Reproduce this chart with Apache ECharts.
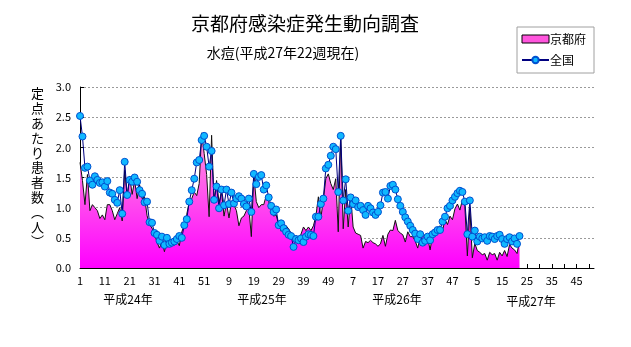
<!DOCTYPE html>
<html><head><meta charset="utf-8">
<script src="https://cdn.jsdelivr.net/npm/echarts@6/dist/echarts.min.js"></script>
<style>html,body{margin:0;padding:0;background:#fff}#c{width:631px;height:347px}</style>
</head><body><div id="c"></div>
<script>
const weeksPerYear = [52, 52, 52, 52];
const yearLabels = ['平成24年', '平成25年', '平成26年', '平成27年'];
const yTicks = [0, 0.5, 1, 1.5, 2, 2.5, 3];

// 京都府 (2012 week1 .. 2015 week22)
const kyoto = [
 1.75,1.45,1.05,1.55,0.95,1.05,1.00,0.95,0.82,0.88,
 0.80,1.05,1.05,0.95,0.80,0.90,1.00,0.78,1.62,1.18,
 1.52,1.22,1.45,1.15,1.38,1.15,1.18,0.87,0.72,0.66,
 0.57,0.43,0.33,0.45,0.27,0.45,0.36,0.41,0.38,0.45,
 0.37,0.60,0.71,0.89,1.10,1.15,1.26,1.20,1.40,2.24,
 1.90,1.55,0.85,2.20,1.10,1.45,1.08,1.27,0.86,1.08,
 0.83,1.10,1.05,0.95,0.70,0.83,0.86,0.95,1.00,0.52,
 1.54,1.10,1.00,1.05,1.05,1.20,1.10,0.97,0.86,0.88,
 0.72,0.61,0.72,0.70,0.65,0.58,0.48,0.54,0.48,0.56,
 0.68,0.62,0.68,0.62,0.70,0.86,1.18,0.83,1.13,1.48,
 1.56,1.40,1.30,1.48,0.60,2.20,0.65,1.30,0.68,1.20,
 0.68,0.58,0.56,0.54,0.33,0.44,0.42,0.46,0.42,0.40,
 0.36,0.40,0.54,0.36,0.56,0.63,0.62,0.79,0.62,0.58,
 0.55,0.43,0.60,0.52,0.52,0.45,0.33,0.50,0.52,0.55,
 0.50,0.30,0.55,0.63,0.66,0.70,0.62,0.80,0.72,0.86,
 0.80,0.98,1.06,0.96,1.13,1.02,0.20,1.00,0.17,0.41,
 0.29,0.26,0.22,0.24,0.13,0.26,0.22,0.24,0.13,0.26,
 0.20,0.29,0.19,0.39,0.33,0.30,0.24,0.45
];

// 全国
const zenkoku = [
 2.52,2.18,1.66,1.68,1.45,1.38,1.52,1.46,1.41,1.42,
 1.35,1.44,1.25,1.23,1.13,1.08,1.29,0.90,1.76,1.21,
 1.46,1.43,1.50,1.43,1.29,1.23,1.09,1.10,0.76,0.75,
 0.58,0.55,0.45,0.52,0.38,0.50,0.40,0.42,0.44,0.48,
 0.53,0.50,0.71,0.81,1.10,1.29,1.48,1.75,1.79,2.12,
 2.19,2.01,1.68,1.94,1.13,1.35,0.99,1.30,1.04,1.30,
 1.06,1.25,1.07,1.15,1.19,1.15,1.06,1.02,1.15,0.93,
 1.56,1.39,1.51,1.54,1.30,1.37,1.17,1.03,0.93,0.97,
 0.71,0.74,0.66,0.60,0.55,0.53,0.35,0.48,0.46,0.49,
 0.43,0.52,0.56,0.55,0.53,0.85,0.85,1.06,1.15,1.65,
 1.71,1.86,2.01,1.97,1.26,2.19,1.12,1.47,0.95,1.17,
 1.06,1.12,1.01,1.03,0.96,0.88,1.03,0.99,0.92,0.88,
 0.93,1.04,1.25,1.26,1.15,1.36,1.38,1.30,1.14,1.03,
 0.93,0.84,0.77,0.70,0.63,0.57,0.48,0.56,0.42,0.45,
 0.52,0.46,0.56,0.59,0.63,0.63,0.77,0.85,0.99,1.03,
 1.12,1.18,1.24,1.28,1.26,1.10,0.56,1.12,0.52,0.62,
 0.44,0.52,0.49,0.51,0.45,0.53,0.52,0.48,0.53,0.55,
 0.48,0.40,0.48,0.51,0.44,0.49,0.40,0.53
];

const categories = [];
weeksPerYear.forEach(n => { for (let w = 1; w <= n; w++) categories.push(String(w)); });

const FONT = '"Noto Sans CJK JP", sans-serif';
const chart = echarts.init(document.getElementById('c'), null, {renderer: 'canvas'});

chart.setOption({
  backgroundColor: '#ffffff',
  animation: false,
  textStyle: {fontFamily: FONT, color: '#000'},
  title: [
    {text: '京都府感染症発生動向調査', left: 300, top: 9, textAlign: 'center',
     textStyle: {fontFamily: FONT, fontSize: 19, fontWeight: 'normal', color: '#000'}},
    {text: '水痘(平成27年22週現在)', left: 278, top: 41, textAlign: 'center',
     textStyle: {fontFamily: FONT, fontSize: 14, fontWeight: 'normal', color: '#000'}}
  ],
  legend: {
    orient: 'vertical', left: 517, top: 27,
    padding: [6, 8, 7, 4], itemGap: 9,
    itemWidth: 27, itemHeight: 8,
    borderColor: '#a0a0a0', borderWidth: 1,
    textStyle: {fontFamily: FONT, fontSize: 12, color: '#000', padding: [0, 0, 0, -4]},
    data: [
      {name: '京都府', icon: 'rect', itemStyle: {color: '#ff55dd', borderColor: '#000', borderWidth: 1}},
      {name: '全国'}
    ]
  },
  grid: {left: 80, right: 37, top: 87, bottom: 79, containLabel: false},
  xAxis: {
    type: 'category', data: categories, boundaryGap: false,
    axisLine: {lineStyle: {color: '#000', width: 1}},
    axisTick: {inside: true, length: 4, interval: (i) => i % 5 === 0, lineStyle: {color: '#000'}},
    axisLabel: {interval: (i) => i % 10 === 0, fontSize: 11, color: '#000', margin: 7, fontFamily: FONT},
    splitLine: {show: false}
  },
  yAxis: {
    type: 'value', min: yTicks[0], max: yTicks[yTicks.length - 1], interval: 0.5,
    axisLine: {show: true, lineStyle: {color: '#000', width: 1}},
    axisTick: {show: true, inside: true, length: 4, lineStyle: {color: '#000'}},
    axisLabel: {formatter: v => v.toFixed(1), fontSize: 11, color: '#000', margin: 9, fontFamily: FONT},
    splitLine: {show: true, lineStyle: {color: '#9a9a9a', type: [2, 2], width: 1}}
  },
  series: [
    {
      name: '京都府', type: 'line', data: kyoto, showSymbol: false, symbol: 'none',
      lineStyle: {color: '#111', width: 1},
      itemStyle: {color: '#ff55dd'},
      areaStyle: {
        opacity: 1,
        color: new echarts.graphic.LinearGradient(0, 0, 0, 1, [
          {offset: 0, color: '#ff99dd'},
          {offset: 1, color: '#ff00ff'}
        ])
      },
      z: 2
    },
    {
      name: '全国', type: 'line', data: zenkoku, symbol: 'circle', symbolSize: 7,
      showSymbol: true, showAllSymbol: true,
      lineStyle: {color: '#000080', width: 1},
      itemStyle: {color: '#10b8ff', borderColor: '#0050d0', borderWidth: 1},
      z: 3
    }
  ],
  graphic: [
    {type: 'text', left: 31, top: 86, style: {
      text: '定\n点\nあ\nた\nり\n患\n者\n数\n︵\n人\n︶',
      font: '13px ' + FONT, lineHeight: 14.8, fill: '#000', align: 'center'}},
    {type: 'text', x: 128, y: 299, style: {text: yearLabels[0], font: '12px ' + FONT, fill: '#000', align: 'center', verticalAlign: 'middle'}},
    {type: 'text', x: 262, y: 299, style: {text: yearLabels[1], font: '12px ' + FONT, fill: '#000', align: 'center', verticalAlign: 'middle'}},
    {type: 'text', x: 397, y: 299, style: {text: yearLabels[2], font: '12px ' + FONT, fill: '#000', align: 'center', verticalAlign: 'middle'}},
    {type: 'text', x: 531, y: 301, style: {text: yearLabels[3], font: '12px ' + FONT, fill: '#000', align: 'center', verticalAlign: 'middle'}}
  ]
});
</script></body></html>
